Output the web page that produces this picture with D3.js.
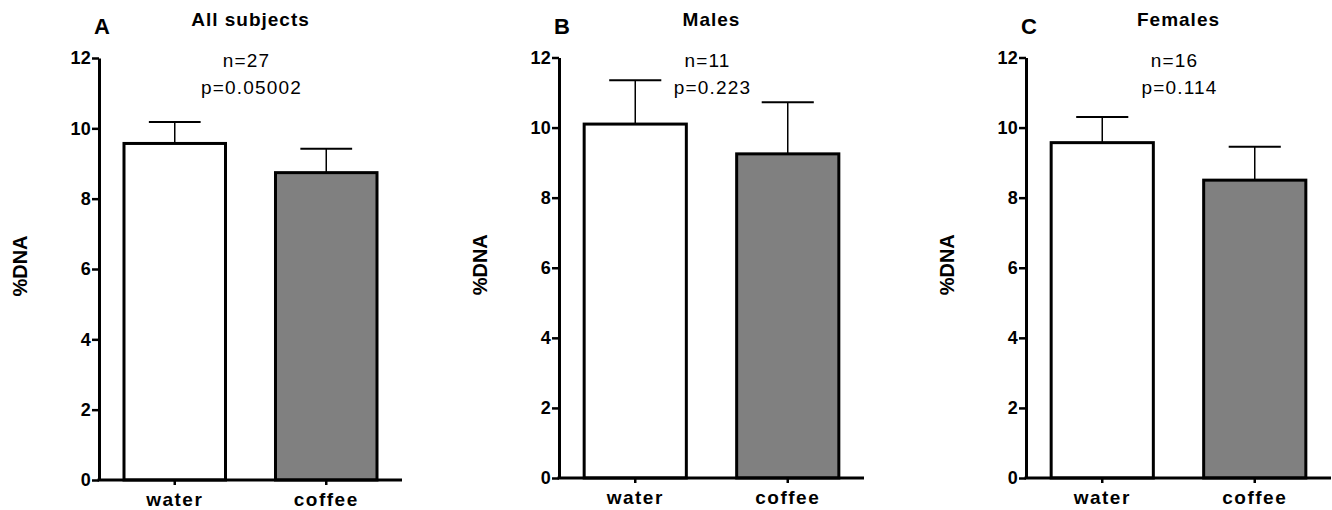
<!DOCTYPE html>
<html>
<head>
<meta charset="utf-8">
<script src="https://cdn.jsdelivr.net/npm/d3@7/dist/d3.min.js"></script>
<style>
  html, body { margin: 0; padding: 0; background: #fff; }
  svg { display: block; font-family: "Liberation Sans", Arial, sans-serif; }
</style>
</head>
<body>
<svg id="chart" width="1332" height="510"></svg>
<script>
// Comet assay %DNA in tail: water vs coffee, three subject groups
const panelLetters = ["A", "B", "C"];
const panelTitles = ["All subjects", "Males", "Females"];
const categories = ["water", "coffee"];
const waterMean = [9.57, 10.10, 9.57];
const waterSem = [0.61, 1.25, 0.73];
const coffeeMean = [8.74, 9.25, 8.50];
const coffeeSem = [0.68, 1.47, 0.95];
const nLabels = ["n=27", "n=11", "n=16"];
const pLabels = ["p=0.05002", "p=0.223", "p=0.114"];
const yTicks = [0, 2, 4, 6, 8, 10, 12];
const yLabel = "%DNA";

// panel geometry (pixel frame of each plot area)
const layout = [
  { x0: 99,   x1: 402,  y0: 480, y1: 58 },
  { x0: 559,  x1: 864,  y0: 478, y1: 57.5 },
  { x0: 1026, x1: 1331, y0: 478, y1: 57.5 }
];
const fills = ["#ffffff", "#808080"];

const svg = d3.select("#chart");

panelLetters.forEach((letter, i) => {
  const L = layout[i];
  const g = svg.append("g");

  const y = d3.scaleLinear().domain([0, 12]).range([L.y0, L.y1]);
  const x = d3.scaleBand().domain(categories).range([L.x0, L.x1]).padding(0);
  const barW = x.bandwidth() * 0.67;
  const capW = barW * 0.51;

  const means = [waterMean[i], coffeeMean[i]];
  const sems = [waterSem[i], coffeeSem[i]];
  const rows = categories.map((c, k) => ({ cat: c, mean: means[k], sem: sems[k], fill: fills[k] }));

  // error bars (upper half only)
  const eb = g.append("g");
  rows.forEach(d => {
    const cx = x(d.cat) + x.bandwidth() / 2;
    eb.append("line")
      .attr("x1", cx).attr("x2", cx)
      .attr("y1", y(d.mean)).attr("y2", y(d.mean + d.sem))
      .attr("stroke", "#000").attr("stroke-width", 1.5);
    eb.append("line")
      .attr("x1", cx - capW / 2).attr("x2", cx + capW / 2)
      .attr("y1", y(d.mean + d.sem)).attr("y2", y(d.mean + d.sem))
      .attr("stroke", "#000").attr("stroke-width", 2);
  });

  // bars
  g.selectAll("rect.bar").data(rows).enter().append("rect")
    .attr("class", "bar")
    .attr("x", d => x(d.cat) + (x.bandwidth() - barW) / 2)
    .attr("width", barW)
    .attr("y", d => y(d.mean))
    .attr("height", d => y(0) - y(d.mean))
    .attr("fill", d => d.fill)
    .attr("stroke", "#000")
    .attr("stroke-width", 3);

  // y axis
  const ya = g.append("g")
    .attr("transform", `translate(${L.x0},0)`)
    .call(d3.axisLeft(y).tickValues(yTicks).tickSize(7).tickSizeOuter(0).tickPadding(1));
  ya.select(".domain").attr("stroke-width", 3);
  ya.selectAll(".tick line").attr("stroke-width", 2.5);
  ya.selectAll(".tick text")
    .attr("font-family", "Liberation Sans, Arial, sans-serif")
    .attr("font-size", 18).attr("font-weight", "bold").attr("fill", "#000")
    .attr("letter-spacing", 0.3);

  // x axis
  const xa = g.append("g")
    .attr("transform", `translate(0,${L.y0})`)
    .call(d3.axisBottom(x).tickSize(5).tickSizeOuter(0).tickPadding(8));
  xa.select(".domain").attr("stroke-width", 3).attr("d", `M${L.x0 - 1.5},0H${L.x1}`);
  xa.selectAll(".tick line").attr("stroke-width", 2.5);
  xa.selectAll(".tick text")
    .attr("font-family", "Liberation Sans, Arial, sans-serif")
    .attr("font-size", 19).attr("font-weight", "bold").attr("fill", "#000")
    .attr("letter-spacing", 1.5);

  // y axis title
  g.append("text")
    .attr("transform", `translate(${L.x0 - 72},${(L.y0 + L.y1) / 2 - 3}) rotate(-90)`)
    .attr("text-anchor", "middle")
    .attr("font-size", 20).attr("font-weight", "bold")
    .text(yLabel);

  const mid = (L.x0 + L.x1) / 2;

  // panel letter and title
  g.append("text")
    .attr("x", L.x0 + 3).attr("y", 34)
    .attr("text-anchor", "middle")
    .attr("font-size", 22).attr("font-weight", "bold")
    .text(letter);
  g.append("text")
    .attr("x", mid).attr("y", 26)
    .attr("text-anchor", "middle")
    .attr("font-size", 19).attr("font-weight", "bold")
    .attr("letter-spacing", 1)
    .text(panelTitles[i]);

  // sample size and p value
  g.append("text")
    .attr("x", mid - 4).attr("y", L.y1 + 9)
    .attr("text-anchor", "middle")
    .attr("font-size", 19).attr("letter-spacing", 1.2)
    .text(nLabels[i]);
  g.append("text")
    .attr("x", mid + 1).attr("y", L.y1 + 36)
    .attr("text-anchor", "middle")
    .attr("font-size", 19).attr("letter-spacing", 1.2)
    .text(pLabels[i]);
});
</script>
</body>
</html>
